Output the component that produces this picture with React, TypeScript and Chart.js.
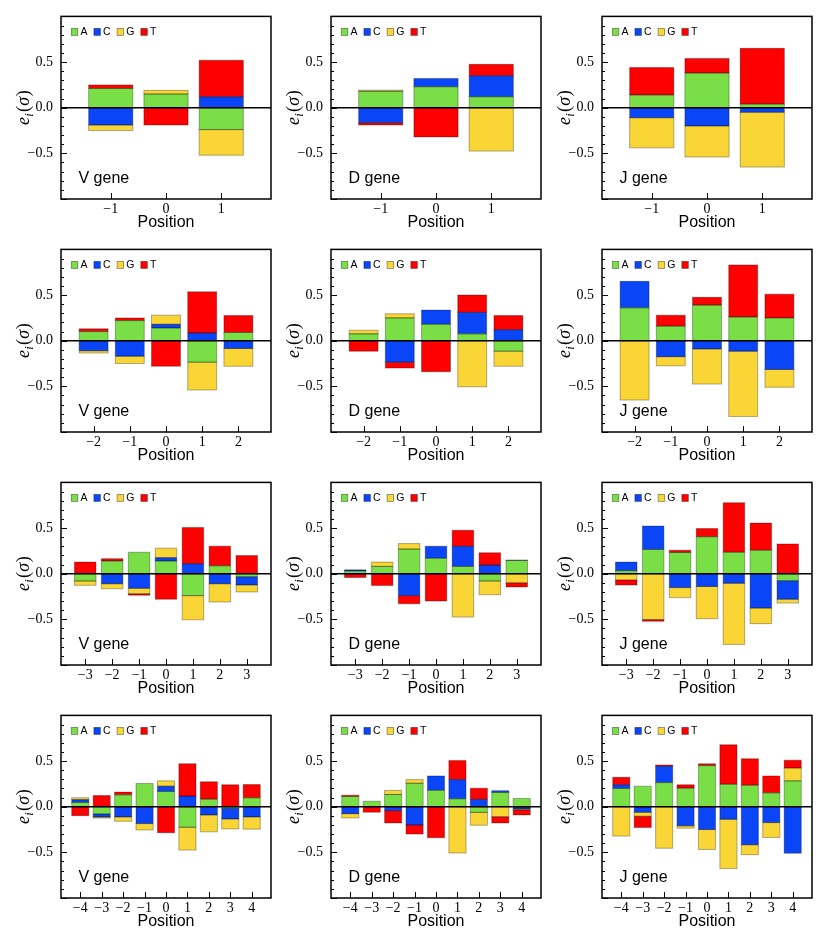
import React, { useEffect, useRef } from 'react';
import { Chart, registerables } from 'chart.js';

Chart.register(...registerables);

// ---------- data ----------
const baseNames = ['A', 'C', 'G', 'T'];
const baseColors = ['#7ade46', '#0a46f8', '#fad536', '#ff0000'];
const yTickValues = [-0.5, 0, 0.5];

const positionsW1 = [-1, 0, 1];
const positionsW2 = [-2, -1, 0, 1, 2];
const positionsW3 = [-3, -2, -1, 0, 1, 2, 3];
const positionsW4 = [-4, -3, -2, -1, 0, 1, 2, 3, 4];

// window 1
const vW1A = [0.21, 0.15, -0.24];
const vW1C = [-0.19, 0, 0.12];
const vW1G = [-0.06, 0.04, -0.28];
const vW1T = [0.04, -0.19, 0.4];

const dW1A = [0.18, 0.23, 0.12];
const dW1C = [-0.165, 0.09, 0.23];
const dW1G = [0.012, 0, -0.475];
const dW1T = [-0.025, -0.32, 0.125];

const jW1A = [0.14, 0.38, 0.04];
const jW1C = [-0.11, -0.2, -0.05];
const jW1G = [-0.33, -0.34, -0.6];
const jW1T = [0.3, 0.16, 0.61];

// window 2
const vW2A = [0.1, 0.22, 0.14, -0.235, 0.09];
const vW2C = [-0.11, -0.17, 0.04, 0.085, -0.085];
const vW2G = [-0.025, -0.08, 0.1, -0.305, -0.195];
const vW2T = [0.03, 0.03, -0.28, 0.45, 0.185];

const dW2A = [0.075, 0.25, 0.18, 0.075, -0.115];
const dW2C = [0, -0.235, 0.155, 0.235, 0.12];
const dW2G = [0.04, 0.045, 0, -0.505, -0.165];
const dW2T = [-0.115, -0.065, -0.34, 0.19, 0.155];

const jW2A = [0.36, 0.16, 0.39, 0.26, 0.25];
const jW2C = [0.29, -0.175, -0.09, -0.115, -0.315];
const jW2G = [-0.65, -0.1, -0.385, -0.715, -0.195];
const jW2T = [0, 0.12, 0.085, 0.57, 0.26];

// window 3
const vW3A = [-0.08, 0.14, 0.235, 0.14, -0.24, 0.087, -0.033];
const vW3C = [0, -0.11, -0.16, 0.035, 0.11, -0.11, -0.09];
const vW3G = [-0.047, -0.055, -0.06, 0.105, -0.265, -0.2, -0.077];
const vW3T = [0.127, 0.025, -0.015, -0.28, 0.395, 0.215, 0.2];

const dW3A = [0.03, 0.08, 0.27, 0.17, 0.08, -0.08, 0.145];
const dW3C = [0.012, 0, -0.24, 0.13, 0.22, 0.094, 0.005];
const dW3G = [0, 0.047, 0.06, 0, -0.475, -0.15, -0.1];
const dW3T = [-0.042, -0.13, -0.09, -0.3, 0.175, 0.135, -0.045];

const jW3A = [0.033, 0.265, 0.232, 0.405, 0.235, 0.257, -0.076];
const jW3C = [0.094, 0.257, -0.152, -0.14, -0.105, -0.377, -0.203];
const jW3G = [-0.07, -0.503, -0.11, -0.353, -0.67, -0.17, -0.043];
const jW3T = [-0.055, -0.018, 0.025, 0.09, 0.543, 0.297, 0.326];

// window 4
const vW4A = [0.047, -0.08, 0.13, 0.254, 0.167, -0.225, 0.083, -0.018, 0.098];
const vW4C = [0.03, -0.032, -0.112, -0.185, 0.058, 0.116, -0.09, -0.116, -0.112];
const vW4G = [0.021, -0.013, -0.048, -0.07, 0.058, -0.25, -0.185, -0.109, -0.134];
const vW4T = [-0.098, 0.123, 0.03, 0, -0.285, 0.355, 0.19, 0.24, 0.145];

const dW4A = [0.112, 0.06, 0.134, 0.257, 0.18, 0.087, -0.062, 0.156, 0.09];
const dW4C = [-0.076, 0, -0.043, -0.2, 0.157, 0.21, 0.08, 0.02, -0.025];
const dW4G = [-0.047, 0, 0.044, 0.04, 0, -0.507, -0.141, -0.109, -0.01];
const dW4T = [0.014, -0.06, -0.135, -0.1, -0.34, 0.21, 0.123, -0.069, -0.055];

const jW4A = [0.2, 0.225, 0.264, 0.203, 0.45, 0.246, 0.235, 0.152, 0.283];
const jW4C = [0.04, -0.062, 0.178, -0.21, -0.25, -0.138, -0.417, -0.174, -0.51];
const jW4G = [-0.322, -0.043, -0.455, -0.025, -0.218, -0.54, -0.108, -0.163, 0.141];
const jW4T = [0.082, -0.123, 0.015, 0.037, 0.02, 0.432, 0.29, 0.185, 0.086];

const panels = [
  { gene: 'V gene', positions: positionsW1, series: [vW1A, vW1C, vW1G, vW1T] },
  { gene: 'D gene', positions: positionsW1, series: [dW1A, dW1C, dW1G, dW1T] },
  { gene: 'J gene', positions: positionsW1, series: [jW1A, jW1C, jW1G, jW1T] },
  { gene: 'V gene', positions: positionsW2, series: [vW2A, vW2C, vW2G, vW2T] },
  { gene: 'D gene', positions: positionsW2, series: [dW2A, dW2C, dW2G, dW2T] },
  { gene: 'J gene', positions: positionsW2, series: [jW2A, jW2C, jW2G, jW2T] },
  { gene: 'V gene', positions: positionsW3, series: [vW3A, vW3C, vW3G, vW3T] },
  { gene: 'D gene', positions: positionsW3, series: [dW3A, dW3C, dW3G, dW3T] },
  { gene: 'J gene', positions: positionsW3, series: [jW3A, jW3C, jW3G, jW3T] },
  { gene: 'V gene', positions: positionsW4, series: [vW4A, vW4C, vW4G, vW4T] },
  { gene: 'D gene', positions: positionsW4, series: [dW4A, dW4C, dW4G, dW4T] },
  { gene: 'J gene', positions: positionsW4, series: [jW4A, jW4C, jW4G, jW4T] },
];

// ---------- layout ----------
const CANVAS_W = 277;
const CANVAS_H = 239;
const AXIS_W = 61;
const AXIS_H = 40;
const PAD_TOP = 16;
const PAD_RIGHT = 6;
const colLefts = [0, 270, 541];
const rowTops = [0, 233, 466, 699];

const SERIF = "'Liberation Serif', 'Times New Roman', serif";
const SANS = "'Liberation Sans', Arial, sans-serif";

const fmtX = (v: number) => (v < 0 ? '\u2212' + Math.abs(v) : String(v));
const fmtY = (v: number) => (v === 0 ? '0.0' : (v < 0 ? '\u2212' : '') + Math.abs(v).toFixed(1));

function drawYTitle(ctx: CanvasRenderingContext2D, cx: number, cy: number) {
  ctx.save();
  ctx.translate(cx, cy);
  ctx.rotate(-Math.PI / 2);
  const parts = [
    { t: 'e', f: `italic 18px ${SERIF}`, dy: 0, gap: 0 },
    { t: 'i', f: `italic 12.5px ${SERIF}`, dy: 3.5, gap: 0.3 },
    { t: '(', f: `18px ${SERIF}`, dy: 0, gap: 1.2 },
    { t: '\u03c3', f: `italic 18px ${SERIF}`, dy: 0, gap: 0.3 },
    { t: ')', f: `18px ${SERIF}`, dy: 0, gap: 0.6 },
  ];
  let total = 0;
  const widths = parts.map((p) => {
    ctx.font = p.f;
    const w = ctx.measureText(p.t).width;
    total += w + p.gap;
    return w;
  });
  let x = -total / 2;
  ctx.fillStyle = '#000';
  ctx.textBaseline = 'alphabetic';
  ctx.textAlign = 'left';
  parts.forEach((p, i) => {
    x += p.gap;
    ctx.font = p.f;
    ctx.fillText(p.t, x, 5 + p.dy);
    x += widths[i];
  });
  ctx.restore();
}

function makeDecor(gene: string) {
  return {
    id: 'panelDecor',
    afterDatasetsDraw(chart: any) {
      const { ctx, chartArea: a, scales } = chart;
      const x = scales.x;
      const y = scales.y;
      ctx.save();
      // bar outlines (semi-transparent edges, as in the original)
      ctx.strokeStyle = 'rgba(0,0,0,0.3)';
      ctx.lineWidth = 1;
      chart.data.datasets.forEach((_ds: any, di: number) => {
        const meta = chart.getDatasetMeta(di);
        meta.data.forEach((el: any) => {
          const p = el.getProps(['x', 'y', 'base', 'width'], true);
          if (p.y == null || isNaN(p.y) || p.base == null) return;
          const top = Math.min(p.y, p.base);
          const h = Math.abs(p.y - p.base);
          if (h <= 0) return;
          ctx.strokeRect(p.x - p.width / 2, top, p.width, h);
        });
      });
      // zero line
      const y0 = y.getPixelForValue(0);
      ctx.strokeStyle = '#000';
      ctx.lineWidth = 1.6;
      ctx.beginPath();
      ctx.moveTo(a.left, y0);
      ctx.lineTo(a.right, y0);
      ctx.stroke();
      // y ticks (inward, major + minor)
      ctx.lineWidth = 1;
      for (let k = -10; k <= 10; k++) {
        const py = Math.round(y.getPixelForValue(k / 10)) + 0.5;
        const len = k % 5 === 0 ? 6 : 3;
        ctx.beginPath();
        ctx.moveTo(a.left, py);
        ctx.lineTo(a.left + len, py);
        ctx.stroke();
      }
      // x ticks (inward)
      x.ticks.forEach((t: any) => {
        const px = Math.round(x.getPixelForValue(t.value)) + 0.5;
        ctx.beginPath();
        ctx.moveTo(px, a.bottom);
        ctx.lineTo(px, a.bottom - 6);
        ctx.stroke();
      });
      // frame
      ctx.lineWidth = 1.5;
      ctx.strokeRect(a.left, a.top, a.right - a.left, a.bottom - a.top);
      // legend
      ctx.font = `10.5px ${SANS}`;
      ctx.textBaseline = 'middle';
      ctx.textAlign = 'left';
      let lx = a.left + 10.3;
      const ly = a.top + 15.5;
      chart.data.datasets.forEach((ds: any) => {
        ctx.fillStyle = ds.backgroundColor;
        ctx.fillRect(lx, ly - 3.5, 6.5, 7);
        ctx.strokeStyle = 'rgba(0,0,0,0.45)';
        ctx.lineWidth = 0.8;
        ctx.strokeRect(lx, ly - 3.5, 6.5, 7);
        ctx.fillStyle = '#000';
        ctx.fillText(ds.label, lx + 9.2, ly + 0.5);
        lx += 9.2 + ctx.measureText(ds.label).width + 6.4;
      });
      // gene label
      ctx.font = `16px ${SANS}`;
      ctx.fillStyle = '#000';
      ctx.fillText(gene, a.left + 17.5, a.bottom - 20.5);
      // y title
      drawYTitle(ctx, a.left - 37, (a.top + a.bottom) / 2);
      ctx.restore();
    },
  };
}

type PanelProps = {
  gene: string;
  positions: number[];
  series: number[][];
  left: number;
  top: number;
};

function Panel({ gene, positions, series, left, top }: PanelProps) {
  const ref = useRef<HTMLCanvasElement | null>(null);
  useEffect(() => {
    const canvas = ref.current;
    if (!canvas) return;
    const n = Math.max(...positions.map((p) => Math.abs(p)));
    const chart = new Chart(canvas, {
      type: 'bar',
      data: {
        datasets: baseNames.map((b, k) => ({
          label: b,
          data: positions.map((p, i) => ({ x: p, y: series[k][i] === 0 ? null : series[k][i] })),
          backgroundColor: baseColors[k],
          borderWidth: 0,
          categoryPercentage: 1,
          barPercentage: 0.8,
        })),
      } as any,
      options: {
        animation: false,
        responsive: false,
        events: [],
        layout: { padding: { left: 0, top: PAD_TOP, right: PAD_RIGHT, bottom: 0 } },
        plugins: {
          legend: { display: false },
          tooltip: { enabled: false },
          title: { display: false },
        },
        scales: {
          x: {
            type: 'linear',
            stacked: true,
            min: -n - 0.9,
            max: n + 0.9,
            offset: false,
            bounds: 'data',
            grid: { display: false, drawTicks: false, tickLength: 0 },
            border: { display: false },
            afterBuildTicks: (s: any) => {
              s.ticks = positions.map((v) => ({ value: v }));
            },
            afterFit: (s: any) => {
              s.height = AXIS_H;
            },
            ticks: {
              autoSkip: false,
              maxRotation: 0,
              minRotation: 0,
              padding: 2,
              color: '#000',
              font: { family: SERIF, size: 14, lineHeight: 1.2 },
              callback: (v: any) => fmtX(Number(v)),
            },
            title: {
              display: true,
              text: 'Position',
              color: '#000',
              font: { family: SANS, size: 16, lineHeight: 1.2 },
              padding: { top: 0, bottom: 6.5 },
            },
          },
          y: {
            type: 'linear',
            stacked: true,
            min: -1,
            max: 1,
            bounds: 'data',
            grid: { display: false, drawTicks: false, tickLength: 0 },
            border: { display: false },
            afterBuildTicks: (s: any) => {
              s.ticks = yTickValues.map((v) => ({ value: v }));
            },
            afterFit: (s: any) => {
              s.width = AXIS_W;
            },
            ticks: {
              padding: 8,
              color: '#000',
              font: { family: SERIF, size: 14 },
              callback: (v: any) => fmtY(Number(v)),
            },
          },
        },
      } as any,
      plugins: [makeDecor(gene)],
    });
    return () => chart.destroy();
  }, []);
  return (
    <canvas
      ref={ref}
      width={CANVAS_W}
      height={CANVAS_H}
      style={{ position: 'absolute', left, top, width: CANVAS_W, height: CANVAS_H }}
    />
  );
}

export default function App() {
  return (
    <div
      style={{
        position: 'absolute',
        left: 0,
        top: 0,
        width: 830,
        height: 949,
        background: '#fff',
        overflow: 'hidden',
      }}
    >
      {panels.map((p, i) => (
        <Panel
          key={i}
          gene={p.gene}
          positions={p.positions}
          series={p.series}
          left={colLefts[i % 3]}
          top={rowTops[Math.floor(i / 3)]}
        />
      ))}
    </div>
  );
}
